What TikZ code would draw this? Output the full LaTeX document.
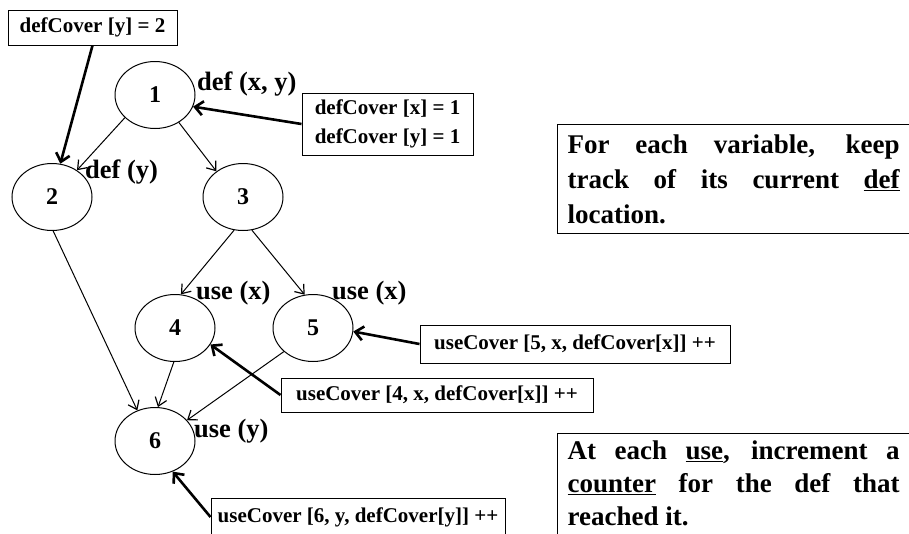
\documentclass[tikz,border=0pt]{standalone}
\usepackage{fontspec}
\setmainfont{Liberation Serif}
\usetikzlibrary{arrows.meta,shapes.geometric}
\begin{document}
\begin{tikzpicture}[x=1pt,y=-1pt,
  vnode/.style={draw, ellipse, line width=1pt, minimum width=80pt, minimum height=67pt, inner sep=0pt, font=\fontsize{24}{24}\selectfont\bfseries},
  flow/.style={draw, line width=1pt, -{Straight Barb[length=8pt,width=12pt,line width=1.2pt]}},
  pin/.style={draw, line width=2.6pt, -{Straight Barb[length=8pt,width=14pt]}},
  lbl/.style={anchor=west, inner sep=0pt, font=\fontsize{26.5}{26.5}\selectfont\bfseries},
  cbox/.style={draw, line width=1pt, inner sep=0pt, font=\fontsize{21}{29}\selectfont\bfseries, align=center},
  bigbox/.style={draw, line width=1.2pt, anchor=north west, inner xsep=10pt, inner ysep=7pt, minimum width=350pt, align=left}
]
\useasboundingbox (0,0) rectangle (909,533);
\clip (0,0) rectangle (909,533);

% vertices
\node[vnode] (n1) at (155,95) {1};
\node[vnode] (n2) at (52,197) {2};
\node[vnode] (n3) at (243,197) {3};
\node[vnode] (n4) at (175,328) {4};
\node[vnode] (n5) at (313,328) {5};
\node[vnode] (n6) at (155,441) {6};

% labels
\node[lbl] (l1) at (197,84) {def (x, y)};
\node[lbl] (l2) at (85,172) {def (y)};
\node[lbl] (l4) at (196,293) {use (x)};
\node[lbl] (l5) at (332,293) {use (x)};
\node[lbl] (l6) at (194,431) {use (y)};

% annotation boxes
\node[cbox, minimum width=169pt, minimum height=35pt] (b2) at (92.5,27.5) {defCover [y] = 2};
\node[cbox, minimum width=171pt, minimum height=62pt] (b1) at (387.5,124) {defCover [x] = 1\\defCover [y] = 1};
\node[cbox, minimum width=310pt, minimum height=38pt] (b5) at (575,344) {useCover [5, x, defCover[x]] ++};
\node[cbox, minimum width=312pt, minimum height=34pt] (b4) at (437,395) {useCover [4, x, defCover[x]] ++};
\node[cbox, minimum width=294pt, minimum height=38pt] (b6) at (358,517) {useCover [6, y, defCover[y]] ++};

% explanation boxes
\node[bigbox, minimum height=109pt, font=\fontsize{27}{35}\selectfont\bfseries] (t1) at (557,124)
  {\makebox[332pt][s]{For each variable, keep}\\
   \makebox[332pt][s]{track of its current \underline{def}}\\
   location.};
\node[bigbox, font=\fontsize{27}{33}\selectfont\bfseries] (t2) at (557,433)
  {\makebox[332pt][s]{At each \underline{use}, increment a}\\
   \makebox[332pt][s]{\underline{counter} for the def that}\\
   reached it.\\ \mbox{}};

% flow edges
\draw[flow] (n1.-143) -- (n2.47);
\draw[flow] (n1.-49) -- (n3.136);
\draw[flow] (n2.-88) -- (n6.120);
\draw[flow] (n3.-105) -- (n4.80);
\draw[flow] (n3.-75) -- (n5.104);
\draw[flow] (n4.-92) -- (n6.85);
\draw[flow] (n5.-141) -- (n6.33);

% annotation arrows
\draw[pin] (b2.south) -- (n2.76);
\draw[pin] (b1.west) -- (n1.-17);
\draw[pin] (b5.west) -- (n5.-5);
\draw[pin] (b4.west) -- (n4.-25);
\draw[pin] (b6.west) -- (n6.-60);
\end{tikzpicture}
\end{document}
